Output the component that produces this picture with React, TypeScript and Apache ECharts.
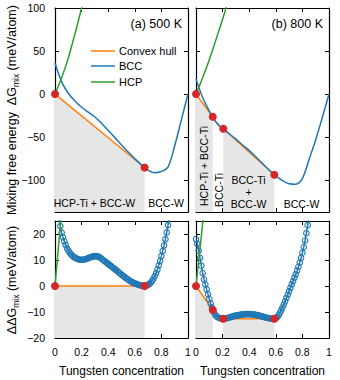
import React, { useEffect, useRef } from "react";
import * as echarts from "echarts";

// ---------- data ----------
const xFine: number[] = Array.from({ length: 101 }, (_, i) => i / 100); // sampling grid 0..1 step 0.01
const xCoarse: number[] = [0, 0.05, 0.1, 0.15, 0.2, 0.25, 0.3, 0.35, 0.4, 0.45, 0.5, 0.55, 0.6, 0.65, 0.7, 0.75, 0.8, 0.85, 0.9, 0.95, 1];

// Mixing free energy of BCC (meV/atom)
const bcc500: number[] = [36, 14.2, 1.0, -8.1, -15.3, -21.0, -26.6, -33.9, -42.3, -50.6, -59.1, -67.3, -75.1, -82.3, -88.4, -91.4, -90.0, -84.5, -60, -30, 0];
const bcc800: number[] = [17.5, -4, -19.5, -32.5, -40.3, -46.1, -52.3, -59.1, -65.7, -72.8, -80.6, -88.2, -95.1, -100.5, -104.2, -104.8, -98, -76, -53, -27, 0];

// HCP
const hcpX: number[] = [0, 0.05, 0.1, 0.15, 0.2, 0.25];
const hcp500: number[] = [0, 19, 42, 70, 100, 133];
const hcp800: number[] = [0, 19, 40, 63, 87, 112];
const hcpDX: number[] = [0, 0.05, 0.1];
const hcpD500: number[] = [0, 29, 58];
const hcpD800: number[] = [0, 24, 48];

// ΔΔG of BCC (meV/atom), on xFine
const dd500: number[] = [
  36, 32, 28.5, 25.5, 23, 20.5, 18.8, 17.2, 15.8, 14.6,
  13.7, 12.9, 12.2, 11.7, 11.2, 10.9, 10.6, 10.4, 10.2, 10.1,
  10.1, 10.1, 10.2, 10.3, 10.5, 10.7, 10.9, 11.1, 11.3, 11.4,
  11.5, 11.5, 11.4, 11.2, 10.9, 10.5, 10.1, 9.7, 9.3, 8.9,
  8.5, 8.1, 7.7, 7.3, 6.9, 6.5, 6.1, 5.7, 5.2, 4.8,
  4.4, 4.0, 3.6, 3.2, 2.8, 2.5, 2.1, 1.8, 1.5, 1.2,
  1.0, 0.8, 0.6, 0.4, 0.3, 0.15, 0.05, 0, 0.05, 0.2,
  0.4, 0.8, 1.3, 2.0, 2.8, 3.8, 5.0, 6.3, 7.9, 9.6,
  11.5, 13.5, 15.6, 18.0, 20.6, 23.4, 26.5, 30, 34, 38.5,
  43.5, 49, 55, 61.5, 68.5, 76, 84, 92.5, 101, 110,
  119,
];
const dd800: number[] = [
  18.0, 16.2, 13.6, 10.8, 7.8, 5.0, 2.6, 0.6, -1.3, -3.2,
  -5.0, -6.7, -8.3, -9.7, -10.7, -11.4, -11.9, -12.2, -12.4, -12.55,
  -12.6, -12.6, -12.5, -12.4, -12.3, -12.1, -12.0, -11.8, -11.7, -11.5,
  -11.4, -11.3, -11.2, -11.1, -11.0, -10.9, -10.9, -10.8, -10.8, -10.8,
  -10.8, -10.8, -10.9, -10.9, -11.0, -11.1, -11.2, -11.3, -11.5, -11.6,
  -11.8, -11.9, -12.1, -12.2, -12.3, -12.4, -12.5, -12.6, -12.6, -12.6,
  -12.4, -12.0, -11.3, -10.4, -9.4, -8.3, -7.1, -5.9, -4.6, -3.3,
  -2.0, -0.7, 0.6, 1.9, 3.2, 4.5, 5.9, 7.4, 9.0, 10.8,
  12.8, 15.0, 17.5, 20.3, 23.4, 26.8, 30.5, 34.5, 38.8, 43.3,
  48, 53, 58, 63.5, 69, 75, 81, 87, 93.5, 100,
  107,
];

// Convex hull
const hullX500: number[] = [0, 0.674];
const hullG500: number[] = [0, -85.3];
const hullD500: number[] = [0, 0];
const hullX800: number[] = [0, 0.126, 0.15, 0.175, 0.205, 0.589];
const hullG800: number[] = [0, -26.4, -32.4, -36.9, -40.3, -93.8];
const hullD800: number[] = [0, -9.2, -11.4, -12.3, -12.6, -12.6];
// tangent points (indices into hull arrays)
const dots500: number[] = [0, 1];
const dots800: number[] = [0, 1, 4, 5];
// two-phase regions (pairs of hull indices)
const regions500: number[][] = [[0, 1]];
const regions800: number[][] = [[0, 1], [4, 5]];

// ---------- styling ----------
const FONT = "Liberation Sans, Arial, Helvetica, sans-serif";
const C_ORANGE = "#ff7f0e";
const C_BLUE = "#1f77b4";
const C_GREEN = "#2ca02c";
const C_RED = "#d62728";
const C_GRAY = "#e6e6e6";

const zip = (xs: number[], ys: number[]) => xs.map((x, i) => [x, ys[i]]);

const axisLine = { show: true, onZero: false, lineStyle: { color: "#000", width: 1.2 } };
const tickStyle = { show: true, inside: true, length: 4, lineStyle: { color: "#000", width: 1 } };
const fmtY = (v: number) => (v < 0 ? "\u2212" + Math.abs(v) : String(v));

function makeX(gi: number, labels: boolean) {
  return [
    {
      type: "value", gridIndex: gi, min: 0, max: 1, interval: 0.2, position: "bottom",
      axisLine, axisTick: tickStyle, splitLine: { show: false },
      axisLabel: { show: labels, margin: 8, fontSize: 10.5, color: "#000", fontFamily: FONT, formatter: (v: number) => String(Math.round(v * 10) / 10) },
      name: labels ? "Tungsten concentration" : "", nameLocation: "middle", nameGap: 27,
      nameTextStyle: { fontSize: 12, color: "#000", fontFamily: FONT },
    },
    {
      type: "value", gridIndex: gi, min: 0, max: 1, interval: 0.2, position: "top",
      axisLine, axisTick: tickStyle, splitLine: { show: false }, axisLabel: { show: false },
    },
  ];
}

function makeY(gi: number, labels: boolean, min: number, max: number, ticks: number[]) {
  return [
    {
      type: "value", gridIndex: gi, min, max, position: "left",
      axisLine, axisTick: { ...tickStyle, customValues: ticks }, splitLine: { show: false },
      axisLabel: { show: labels, customValues: ticks, margin: 10, fontSize: 10.5, color: "#000", fontFamily: FONT, formatter: fmtY },
    },
    {
      type: "value", gridIndex: gi, min, max, position: "right",
      axisLine, axisTick: { ...tickStyle, customValues: ticks }, splitLine: { show: false },
      axisLabel: { show: false, customValues: ticks },
    },
  ];
}

function panelSeries(gi: number, opts: {
  hullX: number[]; hullY: number[]; regions: number[][]; dots: number[];
  bccX: number[]; bccY: number[]; markers: boolean;
  hcpX: number[]; hcpY: number[];
}) {
  const ax = { xAxisIndex: 2 * gi, yAxisIndex: 2 * gi };
  const s: any[] = [];
  opts.regions.forEach(([a, b]) => {
    s.push({
      type: "line", ...ax, z: 1, silent: true, showSymbol: false, symbol: "none",
      data: opts.hullX.slice(a, b + 1).map((x, i) => [x, opts.hullY[a + i]]),
      lineStyle: { width: 0, opacity: 0 },
      areaStyle: { color: C_GRAY, opacity: 1, origin: "start" },
    });
  });
  s.push({
    type: "line", ...ax, z: 3, symbol: "none",
    data: zip(opts.hullX, opts.hullY),
    lineStyle: { color: C_ORANGE, width: 1.5 },
  });
  s.push({
    type: "line", ...ax, z: 4,
    smooth: opts.markers ? false : 0.35,
    symbol: opts.markers ? "circle" : "none",
    symbolSize: 5.5,
    showSymbol: opts.markers,
    itemStyle: { color: "rgba(255,255,255,0)", borderColor: C_BLUE, borderWidth: 1.1 },
    data: zip(opts.bccX, opts.bccY),
    lineStyle: { color: C_BLUE, width: 1.5 },
  });
  s.push({
    type: "line", ...ax, z: 5, symbol: "none", smooth: 0.3,
    data: zip(opts.hcpX, opts.hcpY),
    lineStyle: { color: C_GREEN, width: 1.5 },
  });
  s.push({
    type: "scatter", ...ax, z: 6, symbolSize: 8,
    data: opts.dots.map((i) => [opts.hullX[i], opts.hullY[i]]),
    itemStyle: { color: C_RED, opacity: 1 },
  });
  return s;
}

export default function App() {
  const ref = useRef<HTMLDivElement>(null);
  useEffect(() => {
    if (!ref.current) return;
    const chart = echarts.init(ref.current, null, { renderer: "svg" });
    const topTicks = [-100, -50, 0, 50, 100];
    const botTicks = [-20, -10, 0, 10, 20];
    const txt = (text: string, x: number, y: number, size: number, align = "center", rotation = 0, extra: any = {}) => ({
      type: "text", x, y, rotation, z: 100,
      style: { text, x: 0, y: 0, fill: "#000", font: `${size}px ${FONT}`, fontSize: size, fontFamily: FONT, align, verticalAlign: "middle", ...extra },
    });
    const legendItem = (label: string, color: string, y: number) => [
      { type: "line", z: 100, shape: { x1: 91, y1: y, x2: 115, y2: y }, style: { stroke: color, lineWidth: 1.5 } },
      txt(label, 119, y, 11, "left"),
    ];
    const option: any = {
      animation: false,
      backgroundColor: "#fff",
      grid: [
        { left: 55, top: 8, width: 133, height: 204 },
        { left: 196, top: 8, width: 133, height: 204 },
        { left: 55, top: 221, width: 133, height: 117 },
        { left: 196, top: 221, width: 133, height: 117 },
      ],
      xAxis: [...makeX(0, false), ...makeX(1, false), ...makeX(2, true), ...makeX(3, true)],
      yAxis: [
        ...makeY(0, true, -137, 100, topTicks),
        ...makeY(1, false, -137, 100, topTicks),
        ...makeY(2, true, -20, 25, botTicks),
        ...makeY(3, false, -20, 25, botTicks),
      ],
      series: [
        ...panelSeries(0, { hullX: hullX500, hullY: hullG500, regions: regions500, dots: dots500, bccX: xCoarse, bccY: bcc500, markers: false, hcpX, hcpY: hcp500 }),
        ...panelSeries(1, { hullX: hullX800, hullY: hullG800, regions: regions800, dots: dots800, bccX: xCoarse, bccY: bcc800, markers: false, hcpX, hcpY: hcp800 }),
        ...panelSeries(2, { hullX: hullX500, hullY: hullD500, regions: regions500, dots: dots500, bccX: xFine, bccY: dd500, markers: true, hcpX: hcpDX, hcpY: hcpD500 }),
        ...panelSeries(3, { hullX: hullX800, hullY: hullD800, regions: regions800, dots: dots800, bccX: xFine, bccY: dd800, markers: true, hcpX: hcpDX, hcpY: hcpD800 }),
      ],
      graphic: [
        txt("(a) 500 K", 182, 24, 12.5, "right"),
        txt("(b) 800 K", 323, 24, 12.5, "right"),
        ...legendItem("Convex hull", C_ORANGE, 51),
        ...legendItem("BCC", C_BLUE, 66),
        ...legendItem("HCP", C_GREEN, 82),
        txt("HCP-Ti + BCC-W", 94.5, 203, 10.5),
        txt("BCC-W", 166, 203, 10.5),
        txt("HCP-Ti + BCC-Ti", 204, 166, 10.5, "center", Math.PI / 2),
        txt("BCC-Ti", 219, 190, 10.5, "center", Math.PI / 2),
        txt("BCC-Ti", 248.5, 180, 10.5),
        txt("+", 248.5, 192, 10.5),
        txt("BCC-W", 248.5, 204, 10.5),
        txt("BCC-W", 301.5, 204, 10.5),
        {
          type: "text", x: 12, y: 110, rotation: Math.PI / 2, z: 100,
          style: {
            text: "Mixing free energy  \u0394G{s|mix} (meV/atom)",
            fill: "#000", fontSize: 12.5, fontFamily: FONT, align: "center", verticalAlign: "middle", lineHeight: 16,
            rich: { s: { fontSize: 8.5, fontFamily: FONT, fill: "#000", verticalAlign: "bottom", lineHeight: 16 } },
          },
        },
        {
          type: "text", x: 12, y: 280, rotation: Math.PI / 2, z: 100,
          style: {
            text: "\u0394\u0394G{s|mix} (meV/atom)",
            fill: "#000", fontSize: 12.5, fontFamily: FONT, align: "center", verticalAlign: "middle", lineHeight: 16,
            rich: { s: { fontSize: 8.5, fontFamily: FONT, fill: "#000", verticalAlign: "bottom", lineHeight: 16 } },
          },
        },
      ],
    };
    chart.setOption(option);
    return () => chart.dispose();
  }, []);
  return <div ref={ref} style={{ width: 340, height: 380, position: "absolute", left: 0, top: 0 }} />;
}
